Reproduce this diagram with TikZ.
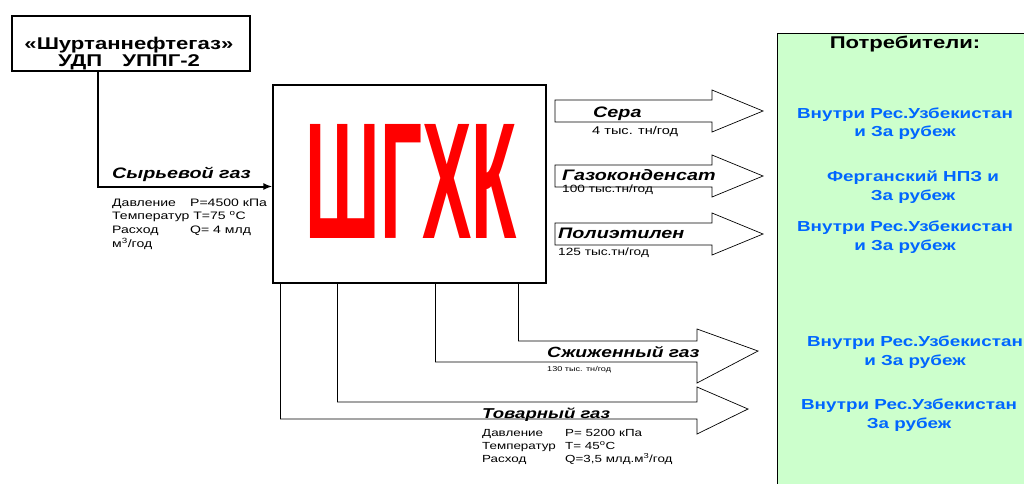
\documentclass[tikz,border=0pt]{standalone}
\usepackage{fontspec}
\setmainfont{Liberation Sans}[FakeStretch=1.3]
\newfontfamily\plainsans{Liberation Sans}
\definecolor{shgxkred}{RGB}{255,0,0}
\definecolor{consumergreen}{RGB}{204,255,204}
\definecolor{consumerblue}{RGB}{0,102,255}
\usetikzlibrary{arrows.meta,positioning}

\begin{document}
\begin{tikzpicture}[x=1pt,y=-1pt,
    box/.style={draw, line width=1.3pt, inner sep=0pt},
    feed/.style={line width=2pt, -{Latex[length=9pt,width=7pt]}},
    blockarrow/.style={draw, line width=0.7pt, line join=miter},
    flowname/.style={anchor=base west, inner sep=0pt, font=\bfseries\itshape\fontsize{15.2}{15.2}\selectfont},
    flowdata/.style={anchor=base west, inner sep=0pt, font=\fontsize{10.8}{13.7}\selectfont},
    consumer/.style={align=center, inner sep=0pt, text=consumerblue, font=\bfseries\fontsize{14.5}{18.5}\selectfont}]
    \useasboundingbox (0,0) rectangle (1024,483);

    % consumers panel
    \node[draw, line width=1.2pt, fill=consumergreen, anchor=north west, minimum width=270, minimum height=470, inner sep=0pt] (consumers) at (777,33) {};
    \node[anchor=base, inner sep=0pt, font=\bfseries\fontsize{17}{17}\selectfont] (consumertitle) at (905,48.3) {Потребители:};
    \node[consumer] (usersulfur) at (905,123.5) {Внутри Рес.Узбекистан\\и За рубеж};
    \node[consumer] (usercondensate) at (913,187) {Ферганский НПЗ и\\За рубеж};
    \node[consumer] (userpoly) at (905,237) {Внутри Рес.Узбекистан\\и За рубеж};
    \node[consumer] (userlpg) at (915,352) {Внутри Рес.Узбекистан\\и За рубеж};
    \node[consumer] (usergas) at (909,415) {Внутри Рес.Узбекистан\\За рубеж};

    % source and plant
    \node[box, minimum width=238, minimum height=55] (udp) at (131,43.5) {};
    \node[anchor=base, inner sep=0pt, font=\bfseries\fontsize{17}{17.4}\selectfont] (udptext) at (129,49.3)
        {\begin{tabular}[t]{@{}c@{}}«Шуртаннефтегаз»\\УДП\hspace{20pt}УППГ-2\end{tabular}};
    \node[draw, line width=1.2pt, minimum width=273, minimum height=198, inner sep=0pt] (shgxk) at (409.5,184) {};
    \node[inner sep=0pt, text=shgxkred] (shgxktext) at (411.5,181) {\resizebox{211pt}{114pt}{\plainsans\bfseries ШГХК}};

    % raw gas feed
    \coordinate (feedbend) at (97.5,186.5);
    \draw[feed] (udp.south -| feedbend) |- (shgxk.west |- feedbend);
    \node[flowname] (rawgas) at (112,178) {Сырьевой газ};
    \node[flowdata] (rawdata) at (112,206) {\begin{tabular}[t]{@{}l@{}}
        \makebox[78pt][l]{Давление}P=4500 кПа\\
        Температур T=75 \textsuperscript{o}C\\
        \makebox[78pt][l]{Расход}Q= 4 млд\\
        м\textsuperscript{3}/год\end{tabular}};

    % products to the right
    \foreach \yc in {111,176,234}
        \draw[blockarrow] (555,\yc-11) -- (712,\yc-11) -- (712,\yc-21) -- (763,\yc) -- (712,\yc+21) -- (712,\yc+11) -- (555,\yc+11) -- cycle;
    \node[flowname] (sulfur) at (593,117) {Сера};
    \node[flowdata, font=\fontsize{11.2}{12}\selectfont] (sulfurdata) at (592,134) {4 тыс. тн/год};
    \node[flowname] (condensate) at (562,180) {Газоконденсат};
    \node[flowdata, font=\fontsize{10.5}{12}\selectfont] (condensatedata) at (562,192) {100 тыс.тн/год};
    \node[flowname] (poly) at (558,238) {Полиэтилен};
    \node[flowdata, font=\fontsize{10.5}{12}\selectfont] (polydata) at (558,255) {125 тыс.тн/год};

    % products from the bottom
    \draw[blockarrow] ([xshift=246pt]shgxk.south west) |- (697,341) -- (697,329) -- (758,351) -- (697,383) -- (697,362) -| ([xshift=163pt]shgxk.south west);
    \draw[blockarrow] ([xshift=65pt]shgxk.south west) |- (697,402) -- (697,387) -- (748,409) -- (697,434) -- (697,419) -| ([xshift=8pt]shgxk.south west);
    \node[flowname, font=\bfseries\itshape\fontsize{14.8}{14.8}\selectfont] (lpg) at (547,357) {Сжиженный газ};
    \node[flowdata, font=\fontsize{7}{8}\selectfont] (lpgdata) at (547,371.5) {130 тыс. тн/год};
    \node[flowname, font=\bfseries\itshape\fontsize{14.3}{14.3}\selectfont] (salesgas) at (482,418) {Товарный газ};
    \node[flowdata, font=\fontsize{10.3}{13}\selectfont] (salesdata) at (482,436.5) {\begin{tabular}[t]{@{}l@{}}
        \makebox[83pt][l]{Давление}P= 5200 кПа\\
        \makebox[83pt][l]{Температур}T= 45\textsuperscript{o}C\\
        \makebox[83pt][l]{Расход}Q=3,5 млд.м\textsuperscript{3}/год\end{tabular}};
\end{tikzpicture}
\end{document}
